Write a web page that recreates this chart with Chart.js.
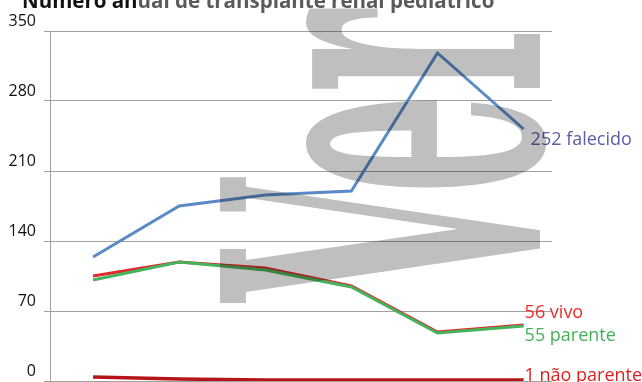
<!DOCTYPE html>
<html>
<head>
<meta charset="utf-8">
<script src="https://cdn.jsdelivr.net/npm/chart.js@4"></script>
<style>
    html, body { margin: 0; padding: 0; background: #fff; }
    #wrap { width: 642px; height: 382px; position: relative; }
</style>
</head>
<body>
<div id="wrap"><canvas id="grafico" width="642" height="382"></canvas></div>
<script>
// anos (os rótulos do eixo x ficam fora da imagem)
const anos = ['2008', '2009', '2010', '2011', '2012', '2013'];
const falecido = [124, 175, 186, 190, 328, 252];
const vivo = [105, 119, 113, 95, 49, 56];
const parente = [101, 119, 111, 94, 48, 55];
const naoParente = [4, 2, 1, 1, 1, 1];
const ticksY = [0, 70, 140, 210, 280, 350];

const titulo1 = 'Número an';
const titulo2 = 'ual de transplante renal pediátrico';

function pontos(valores) {
    return valores.map((v, i) => ({ x: i, y: v }));
}

// rótulos no fim de cada linha
const rotulosFinais = {
    id: 'rotulosFinais',
    afterDatasetsDraw(chart) {
        const ctx = chart.ctx;
        ctx.save();
        ctx.font = '18px "Open Sans"';
        ctx.textBaseline = 'middle';
        ctx.textAlign = 'left';
        chart.data.datasets.forEach((ds, i) => {
            const meta = chart.getDatasetMeta(i);
            const p = meta.data[meta.data.length - 1];
            const v = ds.data[ds.data.length - 1].y;
            ctx.fillStyle = ds.corRotulo;
            ctx.fillText(v + ' ' + ds.label, p.x + ds.dx, p.y + ds.dy);
        });
        ctx.restore();
    }
};

const tituloEMarca = {
    id: 'tituloEMarca',
    afterDraw(chart) {
        const ctx = chart.ctx;
        ctx.save();
        ctx.font = 'bold 20.5px "Open Sans"';
        ctx.textBaseline = 'alphabetic';
        ctx.textAlign = 'left';
        ctx.fillStyle = '#111';
        ctx.fillText(titulo1, 22, 8);
        const w = ctx.measureText(titulo1).width;
        ctx.fillStyle = '#5a5a5a';
        ctx.fillText(titulo2, 22 + w, 8);
        ctx.restore();

        // marca d'água cinza "Ver"
        ctx.save();
        ctx.globalCompositeOperation = 'multiply';
        ctx.fillStyle = '#bfbfbf';
        ctx.font = 'bold 439px "DejaVu Serif"';
        ctx.textBaseline = 'alphabetic';
        ctx.translate(540, 302);
        ctx.rotate(-Math.PI / 2);
        ctx.scale(0.36, 1);
        ctx.fillText('Ver', 0, 0);
        ctx.restore();
    }
};

new Chart(document.getElementById('grafico'), {
    type: 'line',
    data: {
        datasets: [
            {
                label: 'falecido',
                data: pontos(falecido),
                borderColor: '#5a8ac6',
                borderWidth: 3,
                corRotulo: '#5b5ea6',
                dx: 7, dy: 11
            },
            {
                label: 'parente',
                data: pontos(parente),
                borderColor: '#46b35c',
                borderWidth: 3,
                corRotulo: '#45b05a',
                dx: 1, dy: 10
            },
            {
                label: 'vivo',
                data: pontos(vivo),
                borderColor: '#e3262b',
                borderWidth: 3,
                corRotulo: '#f02a2a',
                dx: 1, dy: -12
            },
            {
                label: 'não parente',
                data: pontos(naoParente),
                borderColor: '#b5141a',
                borderWidth: 3.5,
                corRotulo: '#e01f1f',
                dx: 1, dy: -4
            }
        ]
    },
    options: {
        responsive: false,
        animation: false,
        devicePixelRatio: 1,
        elements: { point: { radius: 0 }, line: { tension: 0 } },
        layout: { padding: { top: 31, right: 90, bottom: 1, left: 0 } },
        plugins: { legend: { display: false }, tooltip: { enabled: false } },
        scales: {
            x: {
                type: 'linear',
                display: false,
                min: -0.5,
                max: 5.33
            },
            y: {
                min: 0,
                max: 350,
                afterBuildTicks: s => { s.ticks = ticksY.map(v => ({ value: v })); },
                afterFit: s => {
                    s.width = 50;
                    s.paddingTop = 0;
                    s.paddingBottom = 0;
                },
                grid: { color: '#a0a0a0', tickLength: 6 },
                border: { color: '#a0a0a0' },
                ticks: {
                    color: '#111',
                    font: { family: 'Open Sans', size: 16 },
                    padding: 8,
                    labelOffset: -10
                }
            }
        }
    },
    plugins: [rotulosFinais, tituloEMarca]
});
</script>
</body>
</html>
